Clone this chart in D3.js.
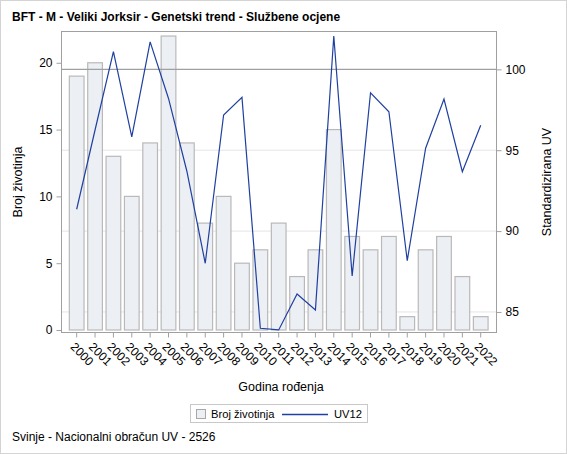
<!DOCTYPE html>
<html><head><meta charset="utf-8">
<script src="https://cdn.jsdelivr.net/npm/d3@7"></script>
<style>
body{margin:0;background:#fff;}
svg text{font-family:"Liberation Sans",Arial,sans-serif;fill:#000;}
</style></head>
<body><svg id="c" width="567" height="454"></svg>
<script>
const years = ["2000","2001","2002","2003","2004","2005","2006","2007","2008","2009","2010","2011","2012","2013","2014","2015","2016","2017","2018","2019","2020","2021","2022"];
const brojZivotinja = [19,20,13,10,14,22,14,8,10,5,6,8,4,6,15,7,6,7,1,6,7,4,1];
const uv12 = [91.35,96.25,101.09,95.83,101.7,98.2,93.7,88.01,97.18,98.27,83.99,83.89,86.11,85.12,102.06,87.22,98.55,97.38,88.17,95.12,98.16,93.67,96.54];
const leftTicks = [0,5,10,15,20];
const rightTicks = [85,90,95,100];
const refValue = 100;
const titleText = "BFT - M - Veliki Jorksir - Genetski trend - Službene ocjene";
const footText = "Svinje - Nacionalni obračun UV - 2526";

const svg = d3.select("#c");
const L = 61.5, R = 496.5, T = 31.5, B = 332.5;

svg.append("rect").attr("x",0.5).attr("y",0.5).attr("width",566).attr("height",453)
  .attr("fill","#fff").attr("stroke","#d4d4d4");

const x = d3.scaleBand().domain(years).range([67.5, 489.9]).paddingInner(0.145).paddingOuter(0.0725);
const yL = d3.scaleLinear().domain([-0.187, 22.34]).range([B, T]);
const yR = d3.scaleLinear().domain([83.73, 102.34]).range([B, T]);

// gridlines (right axis)
svg.append("g").selectAll("line").data(rightTicks.filter(d=>d!==refValue)).join("line")
  .attr("x1",L).attr("x2",R).attr("y1",d=>yR(d)).attr("y2",d=>yR(d))
  .attr("stroke","#e4e4e4").attr("stroke-width",1);

// bars
svg.append("g").selectAll("rect").data(years).join("rect")
  .attr("x",d=>x(d)+0.5).attr("width",x.bandwidth()-1)
  .attr("y",(d,i)=>yL(brojZivotinja[i])).attr("height",(d,i)=>yL(0)-yL(brojZivotinja[i]))
  .attr("fill","#eceff4").attr("stroke","#b9b9b9").attr("stroke-width",1.2);

// reference line
svg.append("line").attr("x1",L).attr("x2",R).attr("y1",yR(refValue)).attr("y2",yR(refValue))
  .attr("stroke","#a0a0a0").attr("stroke-width",1.3);

// line
const line = d3.line().x((d,i)=>x(years[i])+x.bandwidth()/2).y(d=>yR(d));
svg.append("path").datum(uv12).attr("d",line).attr("fill","none")
  .attr("stroke","#1f40a0").attr("stroke-width",1.2);

// frame
svg.append("rect").attr("x",L).attr("y",T).attr("width",R-L).attr("height",B-T)
  .attr("fill","none").attr("stroke","#a0a0a0");

// left axis
const axL = d3.axisLeft(yL).tickValues(leftTicks).tickSize(5).tickPadding(4);
const gL = svg.append("g").attr("transform",`translate(${L},0)`).call(axL);
// right axis
const axR = d3.axisRight(yR).tickValues(rightTicks).tickSize(5).tickPadding(4);
const gR = svg.append("g").attr("transform",`translate(${R},0)`).call(axR);
// bottom axis
const axB = d3.axisBottom(x).tickSize(5).tickPadding(3);
const gB = svg.append("g").attr("transform",`translate(0,${B})`).call(axB);
[gL,gR,gB].forEach(g=>{
  g.select(".domain").remove();
  g.selectAll(".tick line").attr("stroke","#a0a0a0");
  g.selectAll("text").attr("font-size",12).attr("font-family","Liberation Sans, Arial, sans-serif").attr("fill","#000");
});
gB.selectAll(".tick text").attr("text-anchor","start").attr("dy",0)
  .attr("transform","translate(-7,15) rotate(45)").attr("y",0).attr("x",0);

// axis labels
svg.append("text").attr("x",281).attr("y",391).attr("text-anchor","middle").attr("font-size",12.5).text("Godina rođenja");
svg.append("text").attr("transform","translate(22,182) rotate(-90)").attr("text-anchor","middle").attr("font-size",12.5).text("Broj životinja");
svg.append("text").attr("transform","translate(551,182) rotate(-90)").attr("text-anchor","middle").attr("font-size",12.5).text("Standardizirana UV");

// title
svg.append("text").attr("x",12).attr("y",21).attr("font-size",12).attr("font-weight","bold").text(titleText);
// footnote
svg.append("text").attr("x",12).attr("y",441).attr("font-size",12).text(footText);

// legend
const lg = svg.append("g");
lg.append("rect").attr("x",190.5).attr("y",404.5).attr("width",177).attr("height",18)
  .attr("fill","#fff").attr("stroke","#c8c8c8");
lg.append("rect").attr("x",196.5).attr("y",409.5).attr("width",9).attr("height",9)
  .attr("fill","#eceff4").attr("stroke","#a8a8a8");
lg.append("text").attr("x",211).attr("y",418).attr("font-size",11.2).text("Broj životinja");
lg.append("line").attr("x1",282).attr("x2",328).attr("y1",414.5).attr("y2",414.5)
  .attr("stroke","#1f40a0").attr("stroke-width",1.3);
lg.append("text").attr("x",334).attr("y",418).attr("font-size",11.2).text("UV12");
</script></body></html>
